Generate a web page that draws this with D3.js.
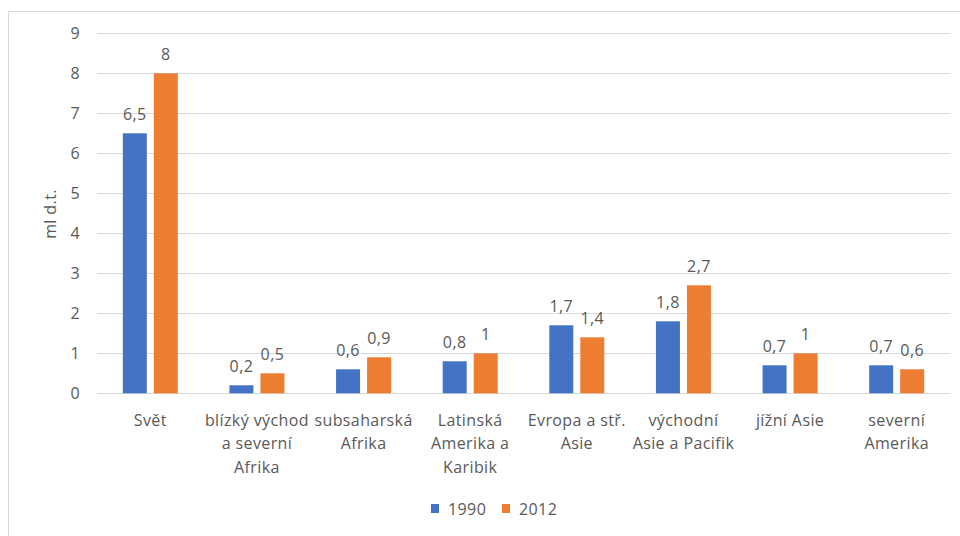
<!DOCTYPE html>
<html>
<head>
<meta charset="utf-8">
<script src="https://cdn.jsdelivr.net/npm/d3@7"></script>
<style>
  html, body { margin: 0; padding: 0; background: #fff; }
  svg { display: block; }
  text { font-family: "Open Sans", Lato, sans-serif; fill: #595959; letter-spacing: 0.4px; }
</style>
</head>
<body>
<svg id="chart" width="960" height="536"></svg>
<script>
const categories = [
  ["Svět"],
  ["blízký východ", "a severní", "Afrika"],
  ["subsaharská", "Afrika"],
  ["Latinská", "Amerika a", "Karibik"],
  ["Evropa a stř.", "Asie"],
  ["východní", "Asie a Pacifik"],
  ["jížní Asie"],
  ["severní", "Amerika"]
];
const series = ["1990", "2012"];
const values1990 = [6.5, 0.2, 0.6, 0.8, 1.7, 1.8, 0.7, 0.7];
const values2012 = [8, 0.5, 0.9, 1, 1.4, 2.7, 1, 0.6];
const yTicks = [0, 1, 2, 3, 4, 5, 6, 7, 8, 9];
const colors = ["#4472C4", "#ED7D31"];
const yTitle = "ml d.t.";

const svg = d3.select("#chart");
const W = 960, H = 536;
const FS = 16;

// chart frame
svg.append("rect")
  .attr("x", 8.5).attr("y", 11.5)
  .attr("width", W + 10).attr("height", H + 10)
  .attr("fill", "#fff").attr("stroke", "#d9d9d9").attr("stroke-width", 1);

const plot = { left: 97, right: 950, top: 33.3, bottom: 393.3 };

const x = d3.scaleBand()
  .domain(d3.range(categories.length))
  .range([plot.left, plot.right])
  .paddingInner(0).paddingOuter(0);

const y = d3.scaleLinear().domain([0, 9]).range([plot.bottom, plot.top]);

const barW = 24, gap = 7;
const xs = d3.scaleBand().domain(series).range([0, barW * 2 + gap]).paddingInner(gap / (barW + gap));

// gridlines
svg.append("g")
  .selectAll("line")
  .data(yTicks)
  .join("line")
  .attr("x1", plot.left).attr("x2", plot.right)
  .attr("y1", d => Math.round(y(d)) + 0.5).attr("y2", d => Math.round(y(d)) + 0.5)
  .attr("stroke", "#d9d9d9").attr("stroke-width", 1);

// y tick labels
svg.append("g")
  .selectAll("text")
  .data(yTicks)
  .join("text")
  .attr("x", 80).attr("y", d => y(d))
  .attr("dy", "0.35em")
  .attr("text-anchor", "end")
  .attr("font-size", FS)
  .text(d => d);

// y title
svg.append("text")
  .attr("transform", `translate(56,${214}) rotate(-90)`)
  .attr("text-anchor", "middle")
  .attr("font-size", FS)
  .text(yTitle);

const data = categories.map((c, i) => ({ i, vals: [values1990[i], values2012[i]] }));
const groupOffset = (x.bandwidth() - (barW * 2 + gap)) / 2;
const fmt = v => String(v).replace(".", ",");

const g = svg.append("g").selectAll("g")
  .data(data).join("g")
  .attr("transform", d => `translate(${x(d.i) + groupOffset},0)`);

g.selectAll("rect")
  .data(d => d.vals.map((v, k) => ({ v, k })))
  .join("rect")
  .attr("x", d => xs(series[d.k]))
  .attr("width", xs.bandwidth())
  .attr("y", d => y(d.v))
  .attr("height", d => y(0) - y(d.v))
  .attr("fill", d => colors[d.k]);

g.selectAll("text")
  .data(d => d.vals.map((v, k) => ({ v, k })))
  .join("text")
  .attr("x", d => xs(series[d.k]) + xs.bandwidth() / 2)
  .attr("y", d => y(d.v) - 19)
  .attr("dy", "0.35em")
  .attr("text-anchor", "middle")
  .attr("font-size", FS)
  .text(d => fmt(d.v));

// category labels
const cl = svg.append("g").selectAll("text")
  .data(categories.map((c, i) => ({ c, i })))
  .join("text")
  .attr("x", d => x(d.i) + x.bandwidth() / 2)
  .attr("y", 420)
  .attr("text-anchor", "middle")
  .attr("font-size", FS);
cl.selectAll("tspan")
  .data(d => d.c.map((line, j) => ({ line, j, cx: x(d.i) + x.bandwidth() / 2 })))
  .join("tspan")
  .attr("x", d => d.cx)
  .attr("y", d => 420 + d.j * 23.5)
  .attr("dy", "0.35em")
  .text(d => d.line);

// legend
const legendX = [431, 502];
const lg = svg.append("g").selectAll("g")
  .data(series).join("g")
  .attr("transform", (d, k) => `translate(${legendX[k]},504)`);
lg.append("rect").attr("width", 8).attr("height", 9).attr("fill", (d, k) => colors[k]);
lg.append("text").attr("x", 17).attr("y", 5).attr("dy", "0.35em").attr("font-size", FS).text(d => d);
</script>
</body>
</html>
